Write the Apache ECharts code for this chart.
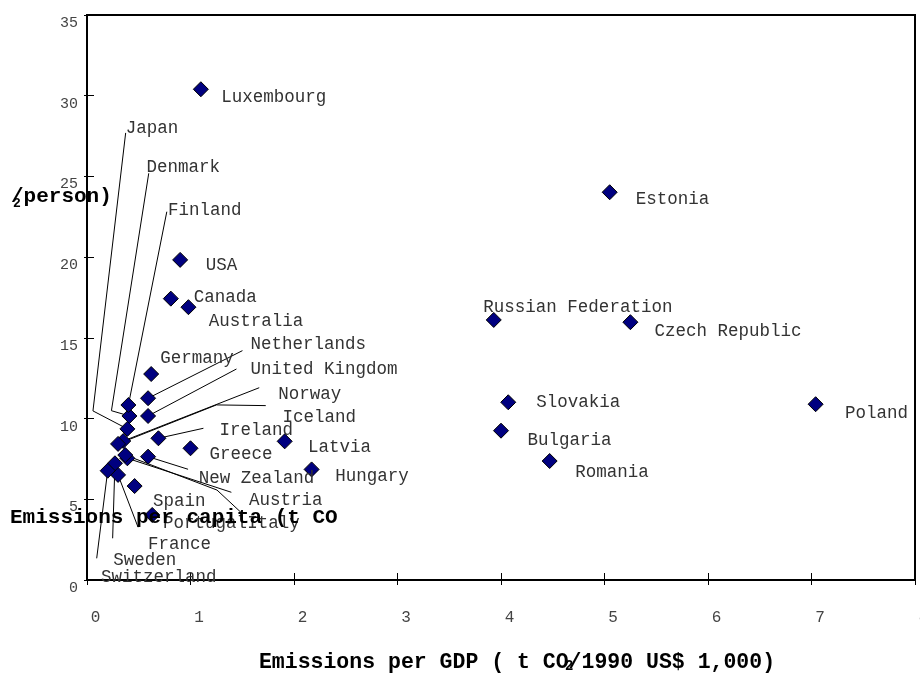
<!DOCTYPE html>
<html>
<head>
<meta charset="utf-8">
<script src="https://cdn.jsdelivr.net/npm/echarts@6/dist/echarts.min.js"></script>
<style>
  html, body { margin: 0; padding: 0; background: #fff; overflow: hidden; }
  #chart { width: 920px; height: 673px; }
</style>
</head>
<body>
<div id="chart"></div>
<script>
// ---- data ----
const countries = ['Luxembourg','Japan','Denmark','Finland','USA','Canada','Australia','Netherlands','Germany','United Kingdom','Norway','Iceland','Ireland','Greece','Latvia','Hungary','New Zealand','Austria','Italy','Spain','Portugal','France','Sweden','Switzerland','Estonia','Russian Federation','Czech Republic','Slovakia','Poland','Bulgaria','Romania'];
const emissionsPerGDP = [1.10,0.39,0.41,0.40,0.90,0.81,0.98,0.59,0.62,0.59,0.35,0.30,0.69,1.00,1.91,2.17,0.59,0.39,0.37,0.46,0.63,0.30,0.27,0.20,5.05,3.93,5.25,4.07,7.04,4.00,4.47];
const emissionsPerCapita = [30.4,9.36,10.16,10.84,19.83,17.43,16.90,11.26,12.76,10.16,8.61,8.43,8.78,8.16,8.59,6.85,7.64,7.54,7.74,5.82,4.03,6.51,7.23,6.77,24.02,16.11,15.97,11.01,10.89,9.25,7.37];
const xTickValues = [0,1,2,3,4,5,6,7,8];
const yTickValues = [0,5,10,15,20,25,30,35];

// ---- layout (pixel offsets from each marker) ----
const labelOffsets = {
  'Luxembourg':[20.5,8], 'Japan':[-1.5,-301], 'Denmark':[17,-249], 'Finland':[39.7,-195],
  'USA':[25.7,5], 'Canada':[23,-1.7], 'Australia':[20.3,13.7], 'Netherlands':[102.4,-54.3],
  'Germany':[9,-16], 'United Kingdom':[102.4,-47], 'Norway':[155,-47], 'Iceland':[164.4,-27],
  'Ireland':[61,-8.3], 'Greece':[19,5.7], 'Latvia':[23.3,5.7], 'Hungary':[23.7,6.5],
  'New Zealand':[50.6,21.3], 'Austria':[121.6,41.7], 'Italy':[122,68], 'Spain':[18.3,15],
  'Portugal':[10.7,8], 'France':[30,69.5], 'Sweden':[-1.7,96.7], 'Switzerland':[-6.7,106.3],
  'Estonia':[26,6.7], 'Russian Federation':[-10.4,-12.5], 'Czech Republic':[24,8.7],
  'Slovakia':[28,0], 'Poland':[29.3,8.7], 'Bulgaria':[26.4,9.3], 'Romania':[25.7,11.5]
};
const leaderPaths = {
  'Japan':[[0,0],[-34.4,-18],[-1.7,-296]],
  'Denmark':[[0,0],[-18,-5.3],[19.3,-242.7]],
  'Finland':[[0,0],[38.4,-193.3]],
  'Netherlands':[[0,0],[94.4,-47.6]],
  'United Kingdom':[[0,0],[88.4,-47]],
  'Norway':[[0,0],[136,-53.3]],
  'Iceland':[[0,0],[98.4,-39],[147.7,-38.3]],
  'Ireland':[[0,0],[45,-10]],
  'New Zealand':[[0,0],[40,12.6]],
  'Austria':[[0,0],[104,34]],
  'Italy':[[0,0],[91.7,35],[115,56.7]],
  'Sweden':[[0,0],[-2.3,75]],
  'Switzerland':[[0,0],[-11,87.6]],
  'France':[[0,0],[20,52.3]]
};

const MONO = '"Liberation Mono", "Courier New", monospace';

const scatterData = countries.map((n, i) => ({
  name: n,
  value: [emissionsPerGDP[i], emissionsPerCapita[i]],
  label: { offset: labelOffsets[n] || [20, 6] }
}));
const leaderData = countries.map((n, i) => [emissionsPerGDP[i], emissionsPerCapita[i], i])
  .filter(d => leaderPaths[countries[d[2]]]);

const chart = echarts.init(document.getElementById('chart'), null, { renderer: 'canvas' });

const tickStyle = { color: '#000', width: 1 };
const option = {
  animation: false,
  backgroundColor: '#fff',
  grid: { left: 87, right: 5, top: 15, bottom: 93, containLabel: false, outerBoundsMode: 'none', show: true, borderColor: '#000', borderWidth: 2, backgroundColor: 'transparent' },
  xAxis: [{
    type: 'value', min: xTickValues[0], max: xTickValues[xTickValues.length - 1], interval: 1,
    position: 'bottom',
    axisLine: { show: true, onZero: false, lineStyle: { color: '#000', width: 2 } },
    axisTick: { show: true, inside: true, length: 7, lineStyle: tickStyle },
    axisLabel: { show: true, margin: 30, color: '#444', fontFamily: MONO, fontSize: 16, padding: [0, 0, 0, 17], showMaxLabel: true, hideOverlap: false },
    splitLine: { show: false }
  }, {
    type: 'value', min: xTickValues[0], max: xTickValues[xTickValues.length - 1], interval: 1,
    position: 'bottom', offset: 0,
    axisLine: { show: false },
    axisTick: { show: true, inside: false, length: 5, lineStyle: tickStyle },
    axisLabel: { show: false },
    splitLine: { show: false }
  }],
  yAxis: [{
    type: 'value', min: yTickValues[0], max: yTickValues[yTickValues.length - 1], interval: 5,
    position: 'left',
    axisLine: { show: true, onZero: false, lineStyle: { color: '#000', width: 2 } },
    axisTick: { show: true, inside: true, length: 7, lineStyle: tickStyle },
    axisLabel: { show: true, margin: 9, color: '#444', fontFamily: MONO, fontSize: 15, verticalAlign: 'top', lineHeight: 16 },
    splitLine: { show: false }
  }, {
    type: 'value', min: yTickValues[0], max: yTickValues[yTickValues.length - 1], interval: 5,
    position: 'left', offset: 0,
    axisLine: { show: false },
    axisTick: { show: true, inside: false, length: 3, lineStyle: tickStyle },
    axisLabel: { show: false },
    splitLine: { show: false }
  }],
  series: [{
    type: 'custom',
    xAxisIndex: 0, yAxisIndex: 0,
    z: 1,
    silent: true,
    data: leaderData,
    renderItem: function (params, api) {
      const idx = api.value(2);
      const c = api.coord([api.value(0), api.value(1)]);
      const path = leaderPaths[countries[idx]];
      return {
        type: 'polyline',
        shape: { points: path.map(o => [c[0] + o[0], c[1] + o[1]]) },
        style: { stroke: '#000', lineWidth: 1, fill: null }
      };
    }
  }, {
    type: 'scatter',
    xAxisIndex: 0, yAxisIndex: 0,
    z: 2,
    symbol: 'diamond',
    symbolSize: 15,
    itemStyle: { color: '#000080', borderColor: '#000', borderWidth: 1, opacity: 1 },
    label: {
      show: true, formatter: '{b}', position: 'inside', align: 'left', verticalAlign: 'middle',
      color: '#333', fontFamily: MONO, fontSize: 17.5
    },
    emphasis: { disabled: true },
    data: scatterData
  }],
  graphic: [
    { type: 'text', x: 10, y: 518, z: 100, style: { text: 'Emissions per capita (t CO', font: 'bold 21px ' + MONO, fill: '#000', verticalAlign: 'middle' } },
    { type: 'text', x: 11, y: 197, z: 100, style: { text: '/person)', font: 'bold 21px ' + MONO, fill: '#000', verticalAlign: 'middle' } },
    { type: 'text', x: 13, y: 204, z: 100, style: { text: '2', font: 'bold 13px ' + MONO, fill: '#000', verticalAlign: 'middle' } },
    { type: 'text', x: 517, y: 663, z: 100, style: { text: 'Emissions per GDP ( t CO/1990 US$ 1,000)', font: 'bold 21.5px ' + MONO, fill: '#000', align: 'center', verticalAlign: 'middle' } },
    { type: 'text', x: 565, y: 666, z: 100, style: { text: '2', font: 'bold 14px ' + MONO, fill: '#000', verticalAlign: 'middle' } }
  ]
};
chart.setOption(option);
</script>
</body>
</html>
